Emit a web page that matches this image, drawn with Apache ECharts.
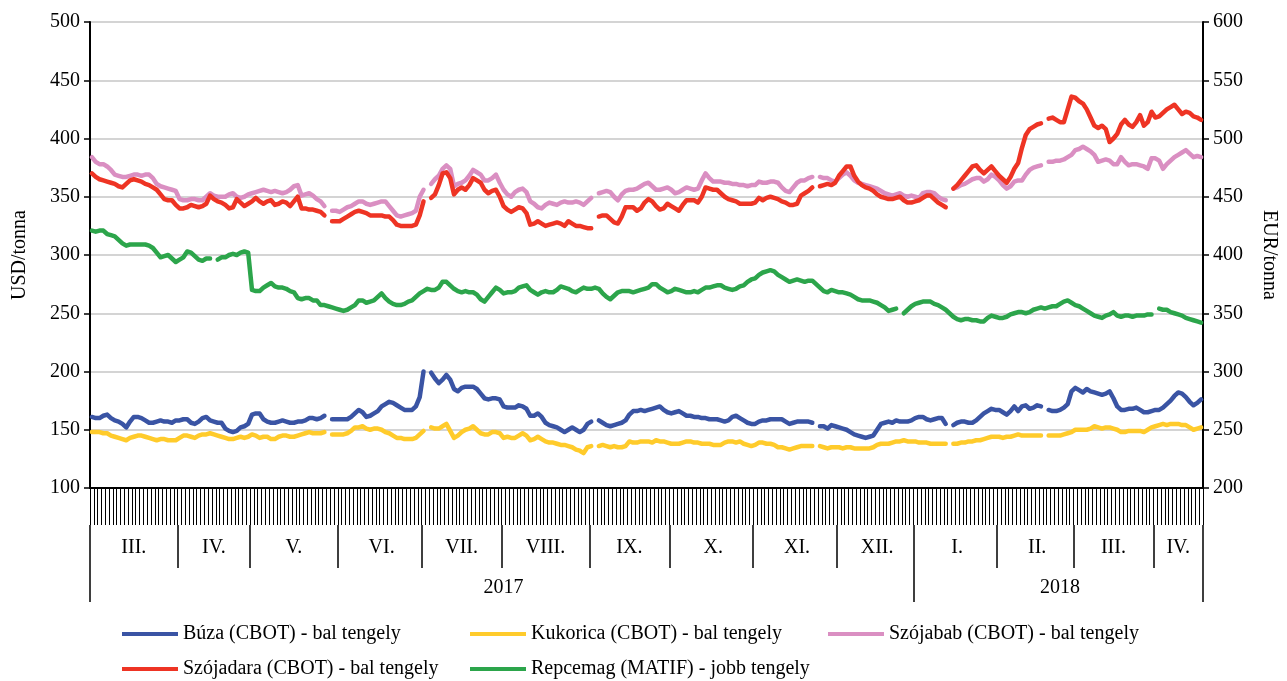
<!DOCTYPE html>
<html>
<head>
<meta charset="utf-8">
<script src="https://cdn.jsdelivr.net/npm/echarts@6/dist/echarts.min.js"></script>
<style>
  html, body { margin: 0; padding: 0; background: #fff; }
  #chart { width: 1287px; height: 681px; }
</style>
</head>
<body>
<div id="chart"></div>
<script>
// hónapok és kereskedési napok száma (2017. III. - 2018. IV.)
const monthNames = ['III.', 'IV.', 'V.', 'VI.', 'VII.', 'VIII.', 'IX.', 'X.', 'XI.', 'XII.', 'I.', 'II.', 'III.', 'IV.'];
const monthDays = [23, 19, 23, 22, 21, 23, 21, 22, 22, 20, 22, 20, 21, 13];
const yearNames = ['2017', '2018'];
const yearMonths = [10, 4];

const leftTicks = [100, 150, 200, 250, 300, 350, 400, 450, 500];
const rightTicks = [200, 250, 300, 350, 400, 450, 500, 550, 600];

// USD/tonna
const buza = [
  161,160,160,162,163,160,158,157,155,152,157,161,161,160,158,156,156,157,158,157,157,156,158,
  158,159,159,156,155,157,160,161,158,157,156,156,151,149,148,149,152,153,155,
  163,164,164,159,157,156,156,157,158,157,156,156,157,157,158,160,160,159,160,162,null,159,159,
  159,159,159,161,164,167,165,161,162,164,166,170,172,174,173,171,169,167,167,167,170,178,
  200,null,199,194,190,193,197,193,185,183,186,187,187,187,185,181,177,176,177,177,176,
  170,169,169,169,171,170,168,162,162,164,161,156,154,153,152,150,148,150,152,150,148,150,155,
  157,null,158,156,154,153,154,155,156,158,163,166,166,167,166,167,168,169,170,167,165,
  164,165,166,164,162,162,161,161,160,160,159,159,159,158,157,158,161,162,160,158,156,155,
  155,157,158,158,159,159,159,159,157,155,156,157,157,157,157,156,null,153,153,151,154,153,
  152,151,150,148,146,145,144,143,144,145,150,155,156,157,156,158,157,157,157,158,
  160,161,161,159,158,159,160,160,155,null,154,156,157,157,156,156,158,161,164,166,168,167,
  167,165,163,166,170,166,170,171,168,169,171,170,null,167,166,166,167,169,172,183,
  186,184,182,185,183,182,181,180,181,183,177,170,167,167,168,168,169,167,165,165,166,
  167,167,169,172,175,179,182,181,178,174,171,173,176
];
const kukorica = [
  148,148,148,147,147,145,144,143,142,141,143,144,145,145,144,143,142,141,142,142,141,141,141,
  143,145,145,144,143,145,146,146,147,146,145,144,143,142,142,143,144,143,144,
  146,145,143,144,144,142,142,144,145,145,144,144,145,146,147,148,147,147,147,148,null,146,146,
  146,146,147,149,152,152,153,151,150,151,151,150,148,147,145,143,143,142,142,142,143,146,
  149,null,152,151,151,153,155,149,143,145,148,150,151,153,150,147,146,146,148,148,147,
  143,144,143,143,145,147,145,141,142,144,142,140,139,139,138,137,137,136,135,133,132,130,135,
  136,null,136,137,136,135,136,135,135,136,140,139,139,140,140,140,139,141,140,140,139,
  138,138,138,139,140,140,139,139,138,138,138,137,137,137,139,140,140,139,140,138,137,136,
  137,139,139,138,138,137,135,135,134,133,134,135,136,136,136,136,null,136,135,134,135,135,
  135,134,135,135,134,134,134,134,134,135,137,138,138,138,139,140,140,141,140,140,
  140,139,139,139,138,138,138,138,138,null,138,138,139,139,140,140,141,141,142,143,144,144,
  144,143,144,144,145,146,145,145,145,145,145,145,null,145,145,145,145,146,147,148,
  150,150,150,150,151,153,152,151,152,152,151,150,148,148,149,149,149,149,148,150,152,
  153,154,155,154,155,155,155,154,154,152,150,151,152
];
const szojabab = [
  384,380,378,378,376,373,369,368,367,367,368,369,369,368,369,369,366,361,359,358,357,356,355,
  348,347,347,348,348,347,347,350,353,351,350,350,350,352,353,350,349,350,352,
  353,354,355,356,355,354,355,354,353,354,356,359,360,351,352,353,351,348,346,342,null,338,338,
  337,339,341,342,344,346,346,344,343,344,345,346,346,342,338,334,333,334,335,336,338,350,
  356,null,361,365,368,374,377,374,359,361,362,364,368,373,371,369,364,364,366,369,362,
  356,352,350,354,356,357,354,346,344,341,340,343,345,344,343,345,346,345,345,346,345,343,346,
  349,null,353,354,355,354,350,347,352,355,356,356,357,359,361,362,359,356,356,357,358,
  356,353,354,356,358,357,356,357,364,370,366,363,363,363,362,362,361,361,360,360,359,360,
  360,363,362,362,363,363,362,358,355,354,358,362,364,364,366,367,null,367,366,366,364,363,
  366,369,371,368,364,362,361,360,359,358,357,355,353,352,351,352,353,351,350,351,
  350,349,353,354,354,353,350,348,347,null,357,358,360,361,363,365,366,366,363,365,369,367,
  364,360,357,359,363,364,364,369,373,375,376,377,null,380,380,381,381,382,384,386,
  390,391,393,391,389,386,380,381,382,381,378,378,384,380,377,378,378,377,376,374,383,
  383,381,374,378,381,384,386,388,390,387,384,385,384
];
const szojadara = [
  370,367,365,364,363,362,361,359,358,361,364,365,364,363,361,360,358,356,352,348,347,347,343,
  340,340,341,343,342,341,342,344,351,348,346,345,343,340,341,348,345,342,344,
  346,349,346,344,346,347,343,344,346,345,342,346,350,340,340,339,339,338,337,334,null,329,329,
  329,331,333,335,337,338,337,336,334,334,334,334,333,333,330,326,325,325,325,325,326,334,
  346,null,349,352,360,370,371,366,352,356,358,356,360,366,364,362,356,353,355,356,350,
  342,339,337,339,341,340,336,326,327,329,327,325,326,327,328,327,325,329,327,325,325,324,323,
  323,null,333,334,334,331,328,327,333,341,341,341,338,340,345,348,346,342,339,340,344,
  342,340,338,343,347,347,347,345,350,358,357,356,356,353,350,348,347,346,344,344,344,344,
  345,349,347,349,350,349,348,346,345,343,343,344,351,353,355,358,null,359,360,361,360,362,
  368,372,376,376,368,363,360,358,357,355,352,350,349,348,348,349,350,347,345,345,
  346,347,349,351,351,348,345,343,341,null,357,360,364,368,372,376,377,373,370,373,376,372,
  368,365,362,367,374,379,392,403,408,410,412,413,null,417,418,416,414,414,425,436,
  435,432,430,425,418,411,409,411,408,397,400,404,412,416,412,410,414,420,411,414,423,
  418,419,422,425,427,429,425,421,423,422,419,418,416
];
// EUR/tonna
const repcemag = [
  421,420,421,421,418,417,416,413,410,408,409,409,409,409,409,408,406,402,398,399,400,397,394,
  396,398,403,402,399,396,395,397,397,null,396,398,398,400,401,400,402,403,402,
  370,369,369,372,374,376,373,372,372,371,369,368,363,362,363,363,361,361,357,357,356,355,354,
  353,352,353,355,357,361,361,359,360,361,364,367,363,360,358,357,357,358,360,361,364,367,
  369,371,370,370,372,377,377,374,371,369,368,369,368,368,366,362,360,364,368,372,370,
  367,368,368,369,372,373,374,370,368,366,368,369,368,368,370,373,372,371,369,368,370,372,371,
  371,372,371,367,364,362,365,368,369,369,369,368,369,370,371,372,375,375,372,370,368,
  369,371,370,369,368,368,369,368,370,372,372,373,374,374,372,371,370,371,373,374,377,379,
  380,383,385,386,387,386,383,381,379,377,378,379,378,377,378,378,375,372,369,368,370,369,
  368,368,367,366,364,362,361,361,361,360,359,357,355,352,353,354,null,350,353,356,
  358,359,360,360,360,358,357,355,353,350,347,345,344,345,345,344,344,343,343,346,348,347,
  346,346,347,349,350,351,351,350,351,353,354,355,354,355,356,356,358,360,361,359,
  357,356,354,352,350,348,347,346,348,349,351,348,347,348,348,347,348,348,348,349,349,
  null,354,353,353,351,350,349,348,346,345,344,343,342
];

const seriesNames = [
  'Búza (CBOT) - bal tengely',
  'Kukorica (CBOT) - bal tengely',
  'Szójabab (CBOT) - bal tengely',
  'Szójadara (CBOT) - bal tengely',
  'Repcemag (MATIF) - jobb tengely'
];
const colors = ['#3a54a4', '#ffcb2b', '#da8fc2', '#ee3424', '#2ca54b'];

// napi kategóriák, hónap- és évhatárok
const days = [];
const monthStart = {};
const monthMid = {};
const yearStart = {};
const yearMid = {};
let idx = 0, m = 0;
yearNames.forEach(function (y, yi) {
  const yStart = idx;
  yearStart[idx] = true;
  for (let k = 0; k < yearMonths[yi]; k++, m++) {
    monthStart[idx] = true;
    monthMid[idx + Math.floor(monthDays[m] / 2)] = monthNames[m];
    for (let d = 1; d <= monthDays[m]; d++) {
      days.push(y + '-' + monthNames[m] + d);
      idx++;
    }
  }
  yearMid[yStart + Math.floor((idx - yStart) / 2)] = y;
});

const font = 'Liberation Serif';
var chartDom = document.getElementById('chart');
var myChart = echarts.init(chartDom);

var option = {
  animation: false,
  backgroundColor: '#fff',
  grid: { left: 90, right: 79, top: 22, bottom: 193 },
  legend: [
    { data: [seriesNames[0]], left: 117, top: 619 },
    { data: [seriesNames[1]], left: 465, top: 619 },
    { data: [seriesNames[2]], left: 823, top: 619 },
    { data: [seriesNames[3]], left: 117, top: 654 },
    { data: [seriesNames[4]], left: 465, top: 654 }
  ].map(function (l) {
    return Object.assign(l, {
      icon: 'rect', itemWidth: 56, itemHeight: 4,
      textStyle: { fontFamily: font, fontSize: 20, color: '#000' }
    });
  }),
  xAxis: [
    {
      type: 'category', data: days, boundaryGap: true,
      axisLine: { show: true, lineStyle: { color: '#000', width: 2 } },
      axisTick: { show: true, interval: function () { return true; }, length: 37,
        lineStyle: { color: '#000', width: 1 } },
      axisLabel: { show: false },
      splitLine: { show: false }
    },
    {
      type: 'category', data: days, boundaryGap: true, position: 'bottom', offset: 37,
      axisLine: { show: false },
      axisTick: { show: true, length: 43, interval: function (i) { return !!monthStart[i]; },
        lineStyle: { color: '#000', width: 1.5 } },
      axisLabel: { interval: function (i) { return monthMid[i] !== undefined; },
        formatter: function (v, i) { return monthMid[i] || ''; },
        margin: 13, fontFamily: font, fontSize: 20, color: '#000' }
    },
    {
      type: 'category', data: days, boundaryGap: true, position: 'bottom', offset: 80,
      axisLine: { show: false },
      axisTick: { show: true, length: 34, interval: function (i) { return !!yearStart[i]; },
        lineStyle: { color: '#000', width: 1.5 } },
      axisLabel: { interval: function (i) { return yearMid[i] !== undefined; },
        formatter: function (v, i) { return yearMid[i] || ''; },
        margin: 10, fontFamily: font, fontSize: 20, color: '#000' }
    }
  ],
  yAxis: [
    {
      type: 'value', position: 'left',
      min: leftTicks[0], max: leftTicks[leftTicks.length - 1], interval: 50,
      name: 'USD/tonna', nameLocation: 'middle', nameGap: 60, nameRotate: 90,
      nameTextStyle: { fontFamily: font, fontSize: 20, color: '#000' },
      axisLine: { show: true, lineStyle: { color: '#000', width: 2 } },
      axisTick: { show: true, length: 6, lineStyle: { color: '#000', width: 1.5 } },
      axisLabel: { margin: 10, fontFamily: font, fontSize: 20, color: '#000' },
      splitLine: { show: true, lineStyle: { color: '#d4d4d4', width: 2 } }
    },
    {
      type: 'value', position: 'right',
      min: rightTicks[0], max: rightTicks[rightTicks.length - 1], interval: 50,
      name: 'EUR/tonna', nameLocation: 'middle', nameGap: 56, nameRotate: -90,
      nameTextStyle: { fontFamily: font, fontSize: 20, color: '#000' },
      axisLine: { show: true, lineStyle: { color: '#000', width: 2 } },
      axisTick: { show: true, length: 6, lineStyle: { color: '#000', width: 1.5 } },
      axisLabel: { margin: 10, fontFamily: font, fontSize: 20, color: '#000' },
      splitLine: { show: false }
    }
  ],
  series: [buza, kukorica, szojabab, szojadara, repcemag].map(function (d, i) {
    return {
      name: seriesNames[i], type: 'line', data: d,
      yAxisIndex: i === 4 ? 1 : 0,
      showSymbol: false, symbol: 'none', connectNulls: false,
      color: colors[i],
      lineStyle: { width: 4.5, color: colors[i], cap: 'round', join: 'round' }
    };
  })
};
myChart.setOption(option);
</script>
</body>
</html>
